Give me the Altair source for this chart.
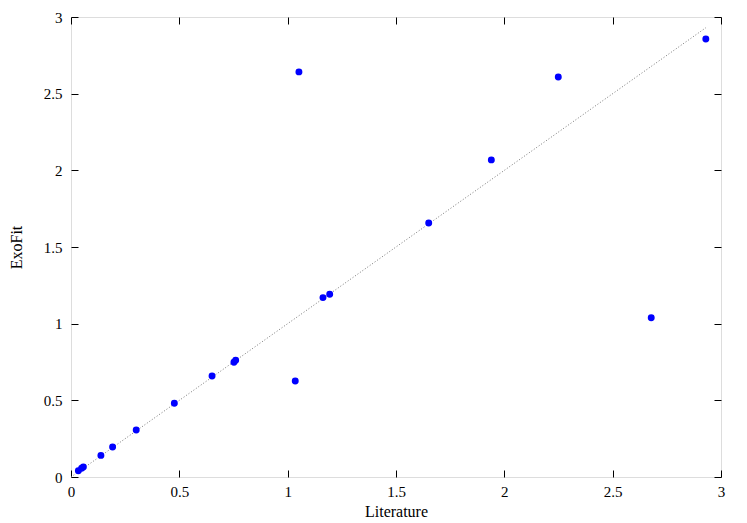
import altair as alt
import pandas as pd

literature = [0.034, 0.049, 0.057, 0.138, 0.192, 0.301, 0.477, 0.651, 0.752, 0.760,
              1.035, 1.052, 1.163, 1.194, 1.651, 1.940, 2.249, 2.678, 2.930]
exofit = [0.041, 0.057, 0.065, 0.141, 0.196, 0.307, 0.481, 0.659, 0.748, 0.761,
          0.626, 2.642, 1.170, 1.192, 1.657, 2.068, 2.609, 1.039, 2.857]
line_vals = [0.0, 2.93]
ticks_x = [0, 0.5, 1, 1.5, 2, 2.5, 3]
ticks_y = [0, 0.5, 1, 1.5, 2, 2.5, 3]

pts = pd.DataFrame({"Literature": literature, "ExoFit": exofit})
ln = pd.DataFrame({"a": line_vals, "b": line_vals})

FONT = "Liberation Serif"
FS = 15
TFS = 16
xs = alt.Scale(domain=[0, 3], nice=False, zero=False)
ys = alt.Scale(domain=[0, 3], nice=False, zero=False)

points = alt.Chart(pts).mark_circle(size=48, color="#0000ff", opacity=1).encode(
    x=alt.X("Literature:Q", scale=xs,
            axis=alt.Axis(orient="bottom", title="Literature", labelPadding=7, titlePadding=4,
                          labelFlush=False, domain=False, grid=False, format="~g",
                          tickColor="#000000", tickSize=7, offset=-7, labelFont=FONT,
                          labelFontSize=FS, labelColor="#000000", titleFont=FONT,
                          titleFontSize=TFS, titleFontWeight="normal", titleColor="#000000",
                          values=ticks_x)),
    y=alt.Y("ExoFit:Q", scale=ys,
            axis=alt.Axis(orient="left", title="ExoFit", labelPadding=9, titlePadding=19,
                          labelFlush=False, domain=False, grid=False, format="~g",
                          tickColor="#000000", tickSize=7, offset=-7, labelFont=FONT,
                          labelFontSize=FS, labelColor="#000000", titleFont=FONT,
                          titleFontSize=TFS, titleFontWeight="normal", titleColor="#000000",
                          values=ticks_y)),
)

line = alt.Chart(ln).mark_line(color="#777777", strokeDash=[1, 2], strokeWidth=1).encode(
    x=alt.X("a:Q", scale=xs,
            axis=alt.Axis(orient="top", labels=False, title=None, domain=False, grid=False,
                          tickColor="#000000", tickSize=7, offset=-7, values=ticks_x)),
    y=alt.Y("b:Q", scale=ys,
            axis=alt.Axis(orient="right", labels=False, title=None, domain=False, grid=False,
                          tickColor="#000000", tickSize=7, offset=-7, values=ticks_y)),
)

chart = alt.layer(line, points).resolve_scale(x="independent", y="independent").resolve_axis(
    x="independent", y="independent"
).properties(
    width=650, height=460,
    autosize=alt.AutoSizeParams(type="none"),
    padding={"left": 63, "top": 9, "right": 16, "bottom": 44},
).configure_view(stroke="#000000", strokeWidth=1.2).configure(background="white")

chart.save("out.html", embed_options={"renderer": "svg", "actions": False})
